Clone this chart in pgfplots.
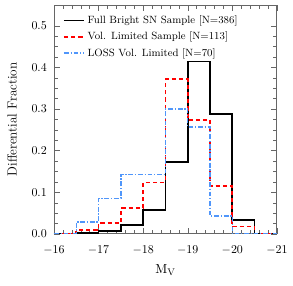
\documentclass[border=0pt]{standalone}
\usepackage{pgfplots}
\pgfplotsset{compat=1.18}
\definecolor{lossblue}{RGB}{80,150,250}
\tikzset{
  fullst/.style={black, line width=1.4pt, solid},
  volst/.style={red, line width=1.4pt, dash pattern=on 3.5pt off 2.5pt},
  lossst/.style={lossblue, line width=1.2pt, dash pattern=on 4pt off 1.5pt on 1pt off 1.5pt},
}
\begin{document}
\begin{tikzpicture}
\begin{axis}[
  scale only axis,
  width=185.8bp, height=190.8bp,
  xmin=-21, xmax=-16, x dir=reverse,
  ymin=0, ymax=0.55,
  xtick={-16,-17,-18,-19,-20,-21},
  ytick={0,0.1,0.2,0.3,0.4,0.5},
  yticklabel style={/pgf/number format/fixed,/pgf/number format/fixed zerofill,/pgf/number format/precision=1, xshift=-2.5pt},
  xticklabel style={yshift=-6pt},
  minor x tick num=4, minor y tick num=3,
  tick align=inside, ticks=both,
  xtick pos=both, ytick pos=both,
  axis line style={black!60, line width=0.8pt},
  every tick/.style={black!60},
  major tick length=5pt, minor tick length=3pt,
  xlabel={$\mathrm{M_V}$},
  ylabel={Differential Fraction},
  every axis x label/.style={at={(axis description cs:0.5,-0.157)}, anchor=center, font=\fontsize{11}{13}\selectfont},
  every axis y label/.style={at={(axis description cs:-0.188,0.5)}, rotate=90, anchor=center, font=\fontsize{11}{13}\selectfont},
  legend style={at={(axis description cs:0.04,0.965)}, anchor=north west, draw=none, fill=none, inner sep=0pt, font=\fontsize{8.8}{10}\selectfont, row sep=1.5pt},
  legend cell align=left,
]
\addplot[const plot mark left, fullst] coordinates {
(-16,0) (-16.5,0.0026) (-17,0.0078) (-17.5,0.0220) (-18,0.057) (-18.5,0.1736) (-19,0.4145) (-19.5,0.2876) (-20,0.0337) (-20.5,0) (-21,0)};
\addlegendentry{Full Bright SN Sample [N=386]}
\addplot[const plot mark left, volst] coordinates {
(-16,0) (-16.5,0.0088) (-17,0.0265) (-17.5,0.0619) (-18,0.1239) (-18.5,0.3717) (-19,0.2743) (-19.5,0.1150) (-20,0.0177) (-20.5,0) (-21,0)};
\addlegendentry{Vol. Limited Sample [N=113]}
\addplot[const plot mark left, lossst] coordinates {
(-16,0) (-16.5,0.0286) (-17,0.0857) (-17.5,0.1429) (-18,0.1429) (-18.5,0.3) (-19,0.2571) (-19.5,0.0429) (-20,0) (-20.5,0) (-21,0)};
\addlegendentry{LOSS Vol. Limited [N=70]}
\end{axis}
\pgfresetboundingbox
\path[use as bounding box] (current axis.south west) ++(-45bp,-43.3bp) rectangle ++(244.2bp,238.3bp);
\end{tikzpicture}
\end{document}
